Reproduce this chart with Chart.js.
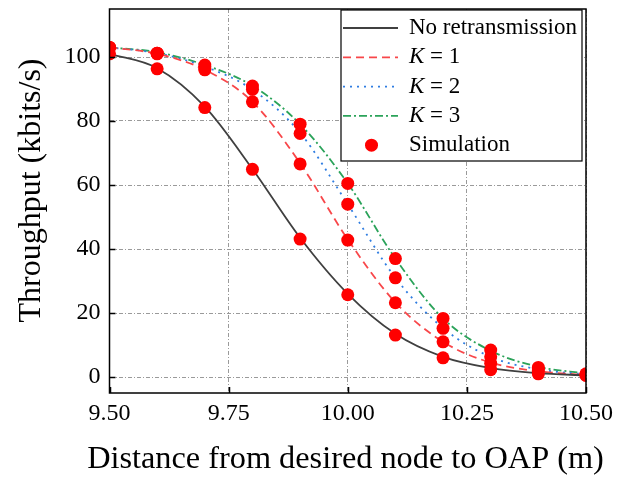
<!DOCTYPE html>
<html>
<head>
<meta charset="utf-8">
<script src="https://cdn.jsdelivr.net/npm/chart.js@4/dist/chart.umd.min.js"></script>
<style>
  html, body { margin: 0; padding: 0; background: #fff; }
  canvas { display: block; }
</style>
</head>
<body>
<canvas id="throughput-chart" width="630" height="477"></canvas>
<script>
// distance (m) and throughput (kbits/s)
const distances = [9.5, 9.6, 9.7, 9.8, 9.9, 10.0, 10.1, 10.2, 10.3, 10.4, 10.5];

const noRetx = [101, 96.5, 84.5, 65, 43.5, 26, 13.5, 6.3, 2.8, 1.2, 0.5];
const k1 = [103, 101, 96, 86, 66.8, 43, 23.3, 11, 4.5, 1.8, 0.6];
const k2 = [103, 101.2, 97, 89.8, 76.3, 54, 31, 15.3, 6.3, 2.4, 0.8];
const k3 = [103, 101.5, 97.5, 91, 79, 60.5, 37, 18.3, 8.2, 3.2, 1.1];

// simulation dots
const simNoRetx = [101, 96.3, 84.2, 64.9, 43.1, 25.7, 13.1, 6, 2.3, 1, 0.5];
const simK1 = [103, 101, 96, 86, 66.6, 42.8, 23.2, 11, 4.3, 1.8, 0.6];
const simK2 = [103, 101.2, 96.5, 89.9, 76.1, 54, 31, 15.2, 6.3, 2.5, 0.8];
const simK3 = [103, 101.2, 97.5, 90.9, 79, 60.5, 37, 18.3, 8.4, 3, 1];

const xTicks = [9.5, 9.75, 10.0, 10.25, 10.5];
const yTicks = [0, 20, 40, 60, 80, 100];

const FONT = "'Liberation Serif', 'Times New Roman', serif";
const X_TITLE = 'Distance from desired node to OAP (m)';
const Y_TITLE = 'Throughput (kbits/s)';

function toPoints(ys) {
  return distances.map((x, i) => ({ x: x, y: ys[i] }));
}

const simPoints = [].concat(
  toPoints(simNoRetx), toPoints(simK1), toPoints(simK2), toPoints(simK3)
);

// frame round the plot + inward tick marks
const framePlugin = {
  id: 'frame',
  afterDatasetsDraw(chart) {
    const { ctx, chartArea: a, scales } = chart;
    ctx.save();
    ctx.strokeStyle = '#000';
    ctx.lineWidth = 1.5;
    ctx.strokeRect(a.left, a.top, a.right - a.left, a.bottom - a.top);
    ctx.beginPath();
    xTicks.forEach(v => {
      const px = Math.round(scales.x.getPixelForValue(v)) + 0.5;
      ctx.moveTo(px, a.bottom);
      ctx.lineTo(px, a.bottom - 6);
    });
    yTicks.forEach(v => {
      const py = Math.round(scales.y.getPixelForValue(v)) + 0.5;
      ctx.moveTo(a.left, py);
      ctx.lineTo(a.left + 6, py);
    });
    ctx.stroke();
    ctx.restore();
  }
};

// axis titles (chart.js squeezes the x one to the plot width, so draw both here)
const titlesPlugin = {
  id: 'axisTitles',
  afterDraw(chart) {
    const ctx = chart.ctx;
    ctx.save();
    ctx.fillStyle = '#000';
    ctx.textAlign = 'center';
    ctx.textBaseline = 'middle';
    ctx.font = '32.3px ' + FONT;
    ctx.fillText(X_TITLE, 345.5, 460);
    ctx.translate(32, 190.5);
    ctx.rotate(-Math.PI / 2);
    ctx.font = '32px ' + FONT;
    ctx.fillText(Y_TITLE, 0, 0);
    ctx.restore();
  }
};

// boxed legend in the top right corner
const legendPlugin = {
  id: 'boxLegend',
  afterDraw(chart) {
    const { ctx, chartArea: a } = chart;
    const right = a.right - 4, left = right - 241;
    const top = a.top + 1, bottom = top + 151;
    ctx.save();
    ctx.fillStyle = '#fff';
    ctx.fillRect(left, top, right - left, bottom - top);
    ctx.strokeStyle = '#000';
    ctx.lineWidth = 1.2;
    ctx.strokeRect(left, top, right - left, bottom - top);

    const sampleX0 = left + 2, sampleX1 = left + 57, textX = left + 68;
    chart.data.datasets.forEach((ds, i) => {
      const y = top + 18 + i * 29.3;
      if (ds.showLine === false) {
        ctx.fillStyle = ds.pointBackgroundColor;
        ctx.beginPath();
        ctx.arc((sampleX0 + sampleX1) / 2 + 1, y, 6.5, 0, Math.PI * 2);
        ctx.fill();
      } else {
        ctx.strokeStyle = ds.borderColor;
        ctx.lineWidth = ds.borderWidth;
        ctx.setLineDash(ds.borderDash || []);
        ctx.beginPath();
        ctx.moveTo(sampleX0, y);
        ctx.lineTo(sampleX1, y);
        ctx.stroke();
        ctx.setLineDash([]);
      }
      ctx.fillStyle = '#000';
      ctx.textBaseline = 'middle';
      ctx.textAlign = 'left';
      let x = textX;
      let rest = ds.label;
      if (ds.label.startsWith('K ')) {
        ctx.font = 'italic 23px ' + FONT;
        ctx.fillText('K', x, y);
        x += ctx.measureText('K').width;
        rest = ds.label.slice(1);
      }
      ctx.font = '23px ' + FONT;
      ctx.fillText(rest, x, y);
    });
    ctx.restore();
  }
};

const lineCommon = {
  borderWidth: 1.8,
  pointRadius: 0,
  fill: false,
  cubicInterpolationMode: 'monotone',
  order: 1
};

new Chart(document.getElementById('throughput-chart'), {
  type: 'line',
  data: {
    datasets: [
      Object.assign({}, lineCommon, {
        label: 'No retransmission',
        data: toPoints(noRetx),
        borderColor: '#404040'
      }),
      Object.assign({}, lineCommon, {
        label: 'K = 1',
        data: toPoints(k1),
        borderColor: '#f8474a',
        borderDash: [8, 5]
      }),
      Object.assign({}, lineCommon, {
        label: 'K = 2',
        data: toPoints(k2),
        borderColor: '#2f7de1',
        borderDash: [2, 5]
      }),
      Object.assign({}, lineCommon, {
        label: 'K = 3',
        data: toPoints(k3),
        borderColor: '#2ba35a',
        borderDash: [8, 3, 2, 3]
      }),
      {
        label: 'Simulation',
        data: simPoints,
        showLine: false,
        pointRadius: 6.5,
        pointHoverRadius: 6.5,
        pointBackgroundColor: '#ff0000',
        pointBorderColor: '#ff0000',
        pointBorderWidth: 0,
        order: 0
      }
    ]
  },
  options: {
    responsive: false,
    animation: false,
    devicePixelRatio: 1,
    layout: { padding: { left: 0, right: 44, top: 9, bottom: 0 } },
    plugins: {
      legend: { display: false },
      tooltip: { enabled: false }
    },
    scales: {
      x: {
        type: 'linear',
        min: 9.5,
        max: 10.5,
        afterBuildTicks: s => { s.ticks = xTicks.map(v => ({ value: v })); },
        afterFit: s => { s.height = 84; s.paddingLeft = 0; s.paddingRight = 0; },
        ticks: {
          padding: 6,
          color: '#000',
          font: { family: FONT, size: 24 },
          callback: v => v.toFixed(2)
        },
        grid: { color: '#9a9a9a', lineWidth: 1, drawTicks: false },
        border: { display: false, dash: [4, 2, 1, 2] }
      },
      y: {
        min: -5,
        max: 115,
        afterBuildTicks: s => { s.ticks = yTicks.map(v => ({ value: v })); },
        afterFit: s => { s.width = 109.5; s.paddingTop = 0; s.paddingBottom = 0; },
        ticks: {
          padding: 9,
          color: '#000',
          font: { family: FONT, size: 24 }
        },
        grid: { color: '#9a9a9a', lineWidth: 1, drawTicks: false },
        border: { display: false, dash: [4, 2, 1, 2] }
      }
    }
  },
  plugins: [framePlugin, titlesPlugin, legendPlugin]
});
</script>
</body>
</html>
